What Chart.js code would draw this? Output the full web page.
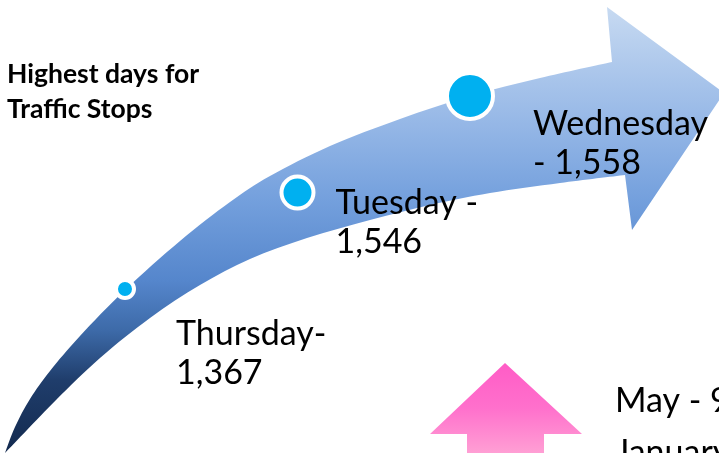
<!DOCTYPE html>
<html>
<head>
<meta charset="utf-8">
<script src="https://cdn.jsdelivr.net/npm/chart.js@4.4.1/dist/chart.umd.min.js"></script>
<style>
  html, body { margin: 0; padding: 0; background: #fff; }
  #wrap { width: 719px; height: 453px; position: relative; }
</style>
</head>
<body>
<div id="wrap"><canvas id="stops"></canvas></div>
<script>
// traffic stops by weekday (top three)
var days = ['Thursday', 'Tuesday', 'Wednesday'];
var stops = [1367, 1546, 1558];
var titleLines = ['Highest days for', 'Traffic Stops'];
var monthLines = ['May - 9', 'January'];

function fmt(n) { return n.toLocaleString('en-US'); }

// rank of each day (1 = lowest of the three)
var sorted = stops.slice().sort(function (a, b) { return a - b; });
var ranks = stops.map(function (v) { return sorted.indexOf(v) + 1; });

// label text for each point
var labelLines = [
    [days[0] + '-', fmt(stops[0])],
    [days[1] + ' -', fmt(stops[1])],
    [days[2], '- ' + fmt(stops[2])]
];
// where each label sits relative to its point (layout only)
var labelOffsets = [[51, 56], [38, 21], [63, 39]];

var FONT = 'Lato, "Open Sans", sans-serif';

function spline(ctx, pts, moveFirst) {
    if (moveFirst) ctx.moveTo(pts[0][0], pts[0][1]);
    else ctx.lineTo(pts[0][0], pts[0][1]);
    for (var i = 0; i < pts.length - 1; i++) {
        var p0 = pts[i - 1] || pts[i], p1 = pts[i], p2 = pts[i + 1], p3 = pts[i + 2] || pts[i + 1];
        ctx.bezierCurveTo(
            p1[0] + (p2[0] - p0[0]) / 6, p1[1] + (p2[1] - p0[1]) / 6,
            p2[0] - (p3[0] - p1[0]) / 6, p2[1] - (p3[1] - p1[1]) / 6,
            p2[0], p2[1]);
    }
}

var backdrop = {
    id: 'backdrop',
    beforeDatasetsDraw: function (chart) {
        var ctx = chart.ctx;
        ctx.save();

        // big curved arrow
        var upper = [[5, 453], [15, 427], [30, 399], [50, 371], [80, 336], [125, 290], [180, 241],
            [230, 202], [270, 176], [330, 146], [400, 119], [470, 96], [540, 78], [612, 62]];
        var lower = [[625, 175], [560, 183], [490, 193], [430, 205], [370, 220], [307, 238], [250, 259],
            [200, 285], [150, 318], [100, 358], [57, 399], [27, 430], [5, 453]];
        var g = ctx.createLinearGradient(0, 453, 0, 0);
        g.addColorStop(0, '#132a4f');
        g.addColorStop(0.16, '#1f3d6b');
        g.addColorStop(0.27, '#3d6aa8');
        g.addColorStop(0.38, '#5586cc');
        g.addColorStop(0.56, '#74a0dd');
        g.addColorStop(0.74, '#98b9e7');
        g.addColorStop(1, '#cadcf2');
        ctx.beginPath();
        spline(ctx, upper, true);
        ctx.lineTo(607, 7);
        ctx.lineTo(724, 93);
        ctx.lineTo(632, 230);
        spline(ctx, lower, false);
        ctx.closePath();
        ctx.fillStyle = g;
        ctx.fill();

        // pink up arrow
        var pg = ctx.createLinearGradient(0, 363, 0, 453);
        pg.addColorStop(0, '#ff5cc6');
        pg.addColorStop(0.5, '#ff70cc');
        pg.addColorStop(1, '#ff9fd4');
        ctx.beginPath();
        ctx.moveTo(505, 363);
        ctx.lineTo(582, 434);
        ctx.lineTo(544, 434);
        ctx.lineTo(544, 460);
        ctx.lineTo(467, 460);
        ctx.lineTo(467, 434);
        ctx.lineTo(430, 434);
        ctx.closePath();
        ctx.fillStyle = pg;
        ctx.fill();
        ctx.restore();
    },
    afterDatasetsDraw: function (chart) {
        var ctx = chart.ctx;
        var meta = chart.getDatasetMeta(0);
        ctx.save();
        ctx.fillStyle = '#000';
        ctx.textBaseline = 'alphabetic';
        ctx.textAlign = 'left';

        ctx.font = 'bold 26.5px ' + FONT;
        ctx.fillText(titleLines[0], 7, 83);
        ctx.fillText(titleLines[1], 7, 118);

        ctx.font = '34px ' + FONT;
        meta.data.forEach(function (pt, i) {
            var x = pt.x + labelOffsets[i][0], y = pt.y + labelOffsets[i][1];
            labelLines[i].forEach(function (line, j) {
                ctx.fillText(line, x, y + j * 39);
            });
        });

        ctx.fillText(monthLines[0], 615, 412);
        ctx.fillText(monthLines[1], 615, 464);
        ctx.restore();
    }
};

new Chart(document.getElementById('stops').getContext('2d'), {
    type: 'scatter',
    data: {
        datasets: [{
            label: 'Traffic stops',
            data: days.map(function (d, i) { return { x: i, y: ranks[i] }; }),
            backgroundColor: '#00b0f0',
            borderColor: '#ffffff',
            borderWidth: 4,
            pointRadius: function (c) { return [9, 16, 23][ranks[c.dataIndex] - 1]; },
            pointHoverRadius: function (c) { return [9, 16, 23][ranks[c.dataIndex] - 1]; }
        }]
    },
    options: {
        responsive: true,
        maintainAspectRatio: false,
        animation: false,
        events: [],
        layout: { padding: 0, autoPadding: false },
        scales: {
            x: { type: 'linear', display: false, min: -0.7246, max: 3.4435 },
            y: { type: 'linear', display: false, min: -0.699, max: 3.995 }
        },
        plugins: {
            legend: { display: false },
            title: { display: false },
            tooltip: { enabled: false }
        }
    },
    plugins: [backdrop]
});
</script>
</body>
</html>
